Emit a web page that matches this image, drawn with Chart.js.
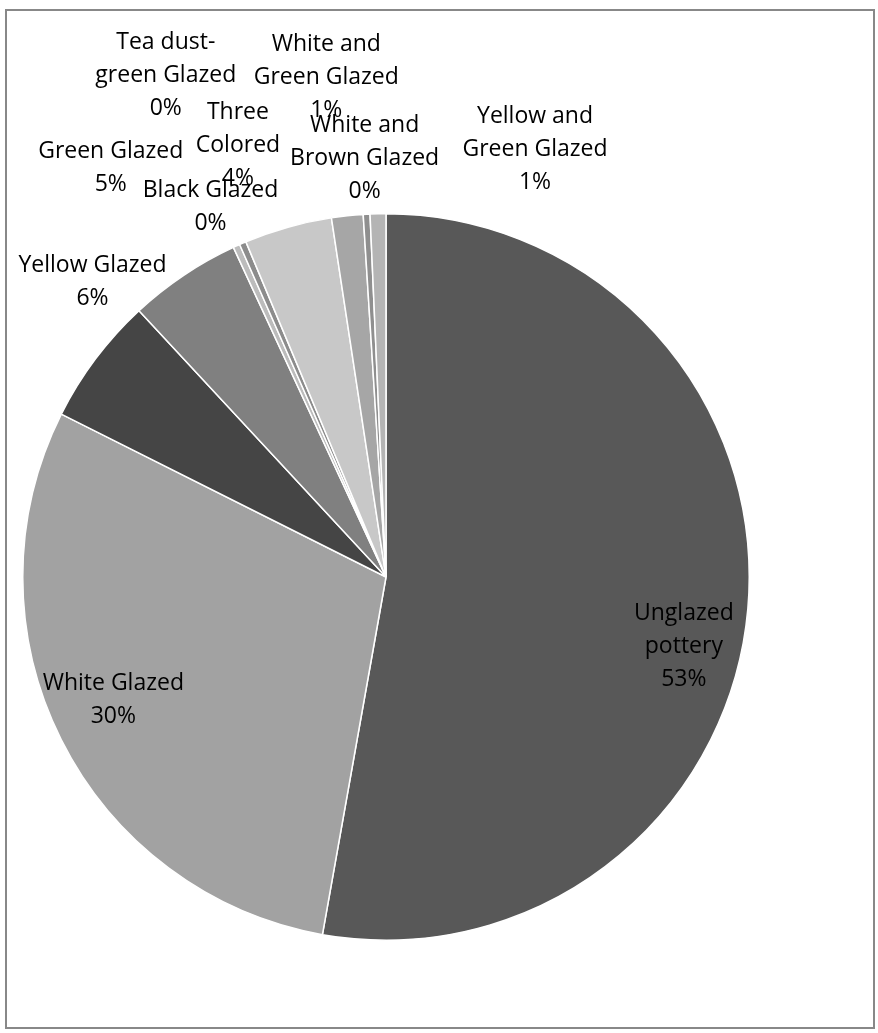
<!DOCTYPE html>
<html>
<head>
<meta charset="utf-8">
<script src="https://cdn.jsdelivr.net/npm/chart.js@4/dist/chart.umd.min.js"></script>
<style>
  html, body { margin: 0; padding: 0; background: #fff; }
  #wrap { position: relative; width: 878px; height: 1033px; }
  #frame { position: absolute; left: 5px; top: 9px; width: 870px; height: 1020px; border: 2px solid #888; box-sizing: border-box; pointer-events: none; }
</style>
</head>
<body>
<div id="wrap">
  <canvas id="pie" width="878" height="1033"></canvas>
  <div id="frame"></div>
</div>
<script>
// categories, clockwise from 12 o'clock
var categories = [
  ["Unglazed", "pottery"],
  ["White Glazed"],
  ["Yellow Glazed"],
  ["Green Glazed"],
  ["Black Glazed"],
  ["Tea dust-", "green Glazed"],
  ["Three", "Colored"],
  ["White and", "Green Glazed"],
  ["White and", "Brown Glazed"],
  ["Yellow and", "Green Glazed"]
]
// share of finds (percent)
var shares = [52.8, 29.6, 5.7, 5.0, 0.3, 0.3, 3.9, 1.4, 0.3, 0.7]

var sliceColors = [
  "#585858", "#a2a2a2", "#454545", "#808080", "#bcbcbc",
  "#8c8c8c", "#c8c8c8", "#a6a6a6", "#8f8f8f", "#b4b4b4"
]
// label nudges from the slice's outer edge at its middle angle (dx, dy)
var labelNudge = [
  [-64, 38], [52, -40], [-3, -77], [-73, -107], [-26, -39],
  [-77, -168], [-50, -82], [-21, -138], [-2, -56], [157, -64]
]

var total = shares.reduce(function (a, b) { return a + b }, 0)

var pieLabels = {
  id: "pieLabels",
  afterDatasetsDraw: function (chart) {
    var ctx = chart.ctx
    var meta = chart.getDatasetMeta(0)
    ctx.save()
    ctx.font = "23px 'Open Sans'"
    ctx.fillStyle = "#000"
    ctx.textAlign = "center"
    ctx.textBaseline = "middle"
    var lineH = 33
    meta.data.forEach(function (arc, i) {
      var p = arc.getProps(["x", "y", "startAngle", "endAngle", "outerRadius"], true)
      var mid = (p.startAngle + p.endAngle) / 2
      var ex = p.x + Math.cos(mid) * p.outerRadius + labelNudge[i][0]
      var ey = p.y + Math.sin(mid) * p.outerRadius + labelNudge[i][1]
      var lines = categories[i].concat([Math.round(shares[i] / total * 100) + "%"])
      var y0 = ey - (lines.length - 1) * lineH / 2
      lines.forEach(function (t, k) {
        ctx.fillText(t, ex, y0 + k * lineH)
      })
    })
    ctx.restore()
  }
}

var pie = document.getElementById("pie")
var config = {
  type: "pie",
  data: {
    labels: categories.map(function (c) { return c.join(" ") }),
    datasets: [
      {
        data: shares,
        backgroundColor: sliceColors,
        borderColor: "#ffffff",
        borderWidth: 1.5
      }
    ]
  },
  options: {
    responsive: false,
    animation: false,
    layout: {
      padding: { left: 22, right: 128, top: 213, bottom: 92 }
    },
    plugins: {
      legend: { display: false },
      tooltip: { enabled: false }
    }
  },
  plugins: [pieLabels]
}

var pieChart = new Chart(pie, config)
</script>
</body>
</html>
